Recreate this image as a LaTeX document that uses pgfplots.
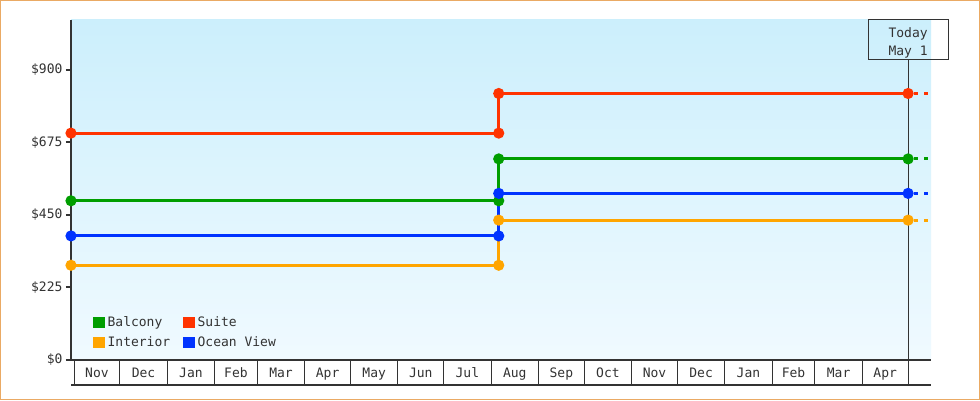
\documentclass[border=0pt]{standalone}
\usepackage{pgfplots}
\pgfplotsset{compat=1.18}
\usepackage{fontspec}
\setmainfont{DejaVu Sans Mono}
\definecolor{balcony}{RGB}{0,158,0}
\definecolor{suite}{RGB}{255,51,0}
\definecolor{interior}{RGB}{255,165,0}
\definecolor{ocean}{RGB}{0,51,255}
\definecolor{axisgray}{RGB}{51,51,51}
\definecolor{bgtop}{RGB}{204,239,252}
\definecolor{bgbot}{RGB}{240,250,255}
\definecolor{framec}{RGB}{234,170,100}
\newcommand\cf{\fontsize{13bp}{18bp}\selectfont}
\begin{document}
\begin{tikzpicture}[x=1bp,y=1bp]
\useasboundingbox (0,0) rectangle (980,400);
\draw[framec, line width=1.5bp, fill=white] (0.75,0.75) rectangle (979.25,399.25);
\begin{axis}[
  at={(71bp,40bp)}, anchor=south west,
  scale only axis, width=860bp, height=340bp,
  xmin=-2, xmax=561, ymin=0, ymax=1055,
  clip=false,
  axis background/.style={shade, top color=bgtop, bottom color=bgbot},
  axis x line=bottom, axis y line=left,
  x axis line style={-, axisgray, line width=1.2bp},
  y axis line style={-, axisgray, line width=2.5bp},
  /pgf/number format/assume math mode=true,
  ytick={0,225,450,675,900},
  yticklabels={\$0,\$225,\$450,\$675,\$900},
  tick align=outside,
  major tick length=5bp,
  ytick style={axisgray, line width=2bp},
  xtick={15,45.5,76.5,106,135.5,166,196.5,227,257.5,288.5,319,349.5,380,410.5,441.5,471,500.5,531},
  xticklabels={Nov,Dec,Jan,Feb,Mar,Apr,May,Jun,Jul,Aug,Sep,Oct,Nov,Dec,Jan,Feb,Mar,Apr},
  xtick style={draw=none},
  tick label style={font=\cf, text=axisgray},
  xticklabel style={yshift=1bp},
  legend columns=2,
  legend cell align=left,
  legend style={at={(0.0256,0.13)}, anchor=north west, draw=none, fill=none,
    font=\cf, text=axisgray, inner sep=0pt, row sep=7bp,
    nodes={inner sep=0pt, text height=10bp, text depth=3bp},
    /tikz/every odd column/.style={column sep=3bp},
    /tikz/every even column/.style={column sep=13bp}},
]
\draw[axisgray, line width=1bp] (axis cs:546,0) -- (axis cs:546,931);
\draw[axisgray, line width=1.2bp] ([yshift=-25bp]axis cs:-2,0) -- ([yshift=-25bp]axis cs:561,0);
\pgfplotsinvokeforeach{0,30,61,92,120,151,181,212,242,273,304,334,365,395,426,457,485,516,546}{
  \draw[axisgray, line width=1bp] (axis cs:#1,0) -- ([yshift=-25bp]axis cs:#1,0);
}
\node[draw=axisgray, line width=1bp, minimum width=80bp, minimum height=40bp, inner sep=0pt] at (axis cs:546,993) {};
\node[align=center, font=\cf, text=axisgray, inner sep=0pt, yshift=-3bp] at (axis cs:546,993) {Today\\May 1};

\addplot[interior, line width=3bp, mark=*, mark size=4bp, forget plot] coordinates {(-2,294) (278,294) (278,434) (546,434)};
\addplot[interior, line width=3bp, dash pattern=on 4bp off 6bp, dash phase=4bp, forget plot] coordinates {(546,434) (561,434)};
\addplot[balcony, line width=3bp, mark=*, mark size=4bp, forget plot] coordinates {(-2,494) (278,494) (278,624) (546,624)};
\addplot[balcony, line width=3bp, dash pattern=on 4bp off 6bp, dash phase=4bp, forget plot] coordinates {(546,624) (561,624)};
\addplot[ocean, line width=3bp, mark=*, mark size=4bp, forget plot] coordinates {(-2,385) (278,385) (278,517) (546,517)};
\addplot[ocean, line width=3bp, dash pattern=on 4bp off 6bp, dash phase=4bp, forget plot] coordinates {(546,517) (561,517)};
\addplot[suite, line width=3bp, mark=*, mark size=4bp, forget plot] coordinates {(-2,704) (278,704) (278,827) (546,827)};
\addplot[suite, line width=3bp, dash pattern=on 4bp off 6bp, dash phase=4bp, forget plot] coordinates {(546,827) (561,827)};

\addlegendimage{legend image code/.code={\fill[balcony] (0bp,-5bp) rectangle (11bp,5bp);}}
\addlegendentry{Balcony}
\addlegendimage{legend image code/.code={\fill[suite] (0bp,-5bp) rectangle (11bp,5bp);}}
\addlegendentry{Suite}
\addlegendimage{legend image code/.code={\fill[interior] (0bp,-5bp) rectangle (11bp,5bp);}}
\addlegendentry{Interior}
\addlegendimage{legend image code/.code={\fill[ocean] (0bp,-5bp) rectangle (11bp,5bp);}}
\addlegendentry{Ocean View}
\end{axis}
\end{tikzpicture}
\end{document}
